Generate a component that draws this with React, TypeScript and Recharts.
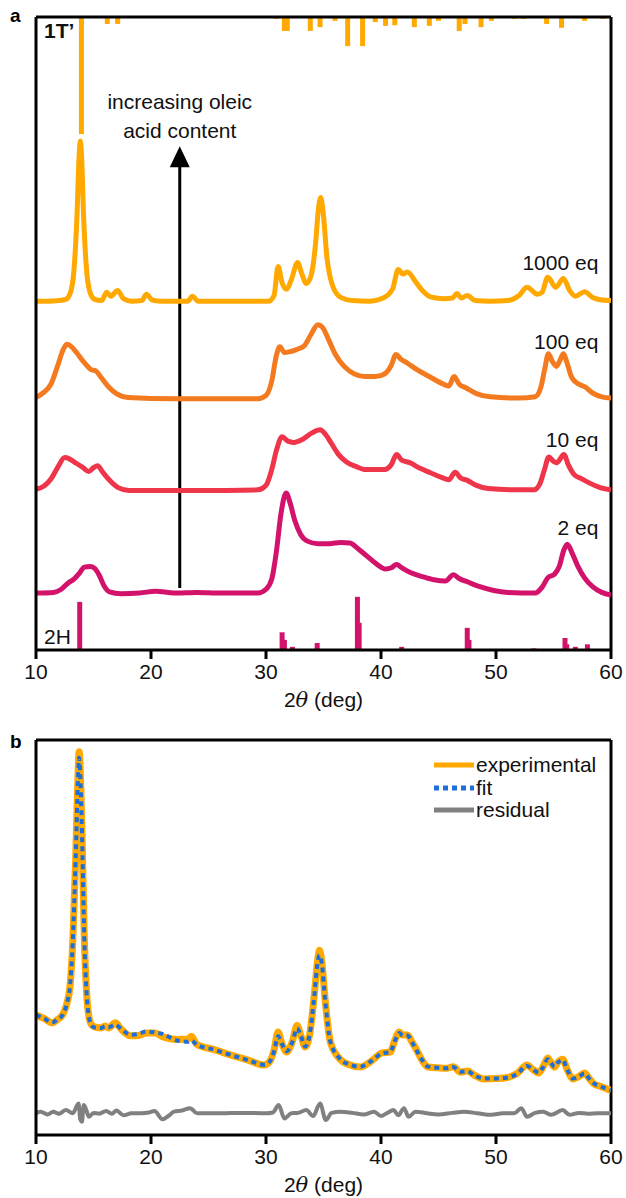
import React from 'react';
import { LineChart, Line, XAxis, YAxis, ReferenceLine, ReferenceDot, Label, Legend } from 'recharts';

const FONT = '"Liberation Sans", Arial, Helvetica, sans-serif';
const FS = 21;

// ---------- shared axis ----------
const xTicks = [10, 20, 30, 40, 50, 60];

// ---------- panel a: offset XRD patterns (2θ, stacked intensity) ----------
const eq1000: [number, number][] = [
  [10, 55.1], [11, 55.1], [12, 55.2], [12.6, 55.4], [13.0, 56.5], [13.3, 60], [13.55, 68], [13.75, 78], [13.85, 80.4], [13.95, 78.5],
  [14.15, 68], [14.4, 60], [14.7, 56.5], [15.1, 55.4], [15.7, 55.2], [16.15, 56.5], [16.5, 55.9], [17.1, 56.8], [17.6, 55.5], [18.3, 55.1],
  [19.2, 55.2], [19.6, 56.2], [20.1, 55.3], [21, 55.1], [23.2, 55.1], [23.6, 55.9], [24.1, 55.1], [30.2, 55.1], [30.7, 56.0], [31.05, 60.6],
  [31.4, 58.0], [31.8, 57.0], [32.2, 58.5], [32.75, 61.2], [33.1, 59.5], [33.5, 57.9], [33.9, 59.0], [34.3, 64.0], [34.55, 69.5], [34.75, 71.5],
  [34.95, 69.5], [35.3, 62], [35.8, 57.5], [36.5, 55.7], [37.5, 55.2], [39, 55.1], [40.2, 55.6], [41, 57.0], [41.5, 60.1], [41.9, 59.4],
  [42.3, 59.7], [43, 58.2], [43.6, 56.8], [44.3, 55.8], [45.5, 55.5], [46.2, 55.6], [46.6, 56.3], [47, 55.6], [47.5, 56.0], [48.2, 55.2],
  [49.5, 55.1], [51.0, 55.2], [52.0, 56.0], [52.7, 57.3], [53.6, 56.2], [54.0, 56.5], [54.5, 58.9], [55.2, 57.3], [55.85, 58.7], [56.4, 56.8],
  [56.9, 55.9], [57.7, 56.6], [58.4, 55.7], [59.2, 55.3], [60, 55.2],
];

const eq100: [number, number][] = [
  [10, 39.9], [10.6, 40.6], [11.3, 42.0], [11.9, 45.0], [12.4, 47.6], [12.7, 48.3], [13.1, 47.9], [13.6, 46.8], [14.2, 45.4], [14.8, 44.3],
  [15.2, 44.1], [15.6, 43.2], [16.3, 41.6], [17.0, 40.5], [18.0, 39.9], [22, 39.7], [29.3, 39.7], [30.0, 40.2], [30.5, 42.5], [30.9, 46.5],
  [31.2, 47.9], [31.6, 47.0], [32.0, 47.1], [32.7, 47.5], [33.3, 48.0], [33.9, 49.8], [34.5, 51.4], [34.9, 51.0], [35.4, 49.2], [36.0, 46.8],
  [36.8, 44.8], [37.7, 43.6], [38.6, 43.2], [39.5, 43.2], [40.3, 43.6], [40.9, 45.0], [41.3, 46.7], [41.7, 46.0], [42.3, 45.3], [43.2, 44.2],
  [44.2, 43.2], [45.2, 42.2], [45.9, 41.7], [46.35, 43.2], [46.8, 42.0], [47.4, 41.4], [48.3, 40.5], [49.5, 40.0], [52, 39.8], [53.4, 40.0],
  [53.9, 41.5], [54.25, 44.5], [54.55, 46.8], [54.9, 45.6], [55.25, 44.8], [55.55, 45.7], [55.85, 46.8], [56.2, 45.2], [56.6, 43.0], [57.2, 42.0],
  [57.7, 41.6], [58.4, 40.6], [59.2, 40.0], [60, 39.8],
];

const eq10: [number, number][] = [
  [10, 25.4], [10.7, 25.9], [11.3, 27.0], [11.9, 28.9], [12.5, 30.4], [12.9, 30.2], [13.5, 29.5], [14.1, 28.8], [14.6, 28.2], [15.0, 28.8],
  [15.35, 29.1], [15.8, 28.1], [16.4, 26.8], [17.1, 25.7], [18.1, 25.2], [24, 25.2], [29.3, 25.3], [30.0, 26.0], [30.5, 28.5], [30.9, 31.5],
  [31.4, 33.7], [31.9, 33.0], [32.4, 32.8], [33.2, 33.3], [34.0, 34.3], [34.7, 34.8], [35.2, 34.0], [35.7, 32.6], [36.3, 30.9], [37.0, 29.7],
  [37.8, 29.0], [38.7, 28.5], [40.3, 28.5], [40.9, 29.3], [41.35, 30.9], [41.8, 30.0], [42.5, 29.6], [43.4, 28.7], [44.3, 28.0], [45.2, 27.3],
  [45.9, 26.9], [46.45, 28.1], [46.9, 27.2], [47.5, 26.8], [48.3, 26.0], [49.3, 25.5], [51.5, 25.3], [53.3, 25.3], [53.8, 26.2], [54.2, 28.4],
  [54.6, 30.5], [55.0, 29.8], [55.3, 29.6], [55.9, 30.9], [56.3, 29.2], [56.8, 27.7], [57.5, 27.0], [58.1, 26.4], [59.0, 25.7], [60, 25.3],
];

const eq2: [number, number][] = [
  [10, 9.0], [11.5, 9.1], [12.2, 9.6], [12.8, 10.6], [13.3, 11.2], [13.8, 12.2], [14.2, 13.1], [14.7, 13.2], [15.1, 12.9], [15.5, 11.8],
  [15.9, 10.2], [16.4, 9.2], [17.4, 8.9], [19, 9.0], [20.4, 9.3], [22, 9.0], [24, 9.1], [26, 9.0], [29.3, 9.0], [30.0, 9.6],
  [30.5, 11.2], [30.9, 15.5], [31.3, 21.5], [31.75, 24.8], [32.1, 23.2], [32.5, 20.5], [33.0, 18.3], [33.6, 17.2], [34.5, 16.8], [35.5, 16.8],
  [36.5, 17.0], [37.3, 16.9], [38.0, 16.0], [38.8, 14.8], [39.6, 13.6], [40.4, 12.8], [40.9, 13.0], [41.35, 13.5], [41.8, 13.0], [42.6, 12.2],
  [43.6, 11.6], [44.6, 11.1], [45.6, 10.9], [46.3, 11.9], [46.8, 11.3], [47.6, 10.7], [48.6, 10.0], [49.8, 9.4], [51, 9.1], [53.4, 9.0],
  [54.0, 9.9], [54.5, 11.4], [55.1, 12.0], [55.5, 13.2], [55.9, 15.8], [56.2, 16.7], [56.6, 15.4], [57.1, 13.3], [57.7, 11.4], [58.4, 10.0],
  [59.2, 9.1], [60, 8.7],
];

// 1T' reference reflections (2θ, relative depth hanging from the top)
const ref1T: [number, number][] = [
  [13.95, 18.5], [16.2, 1.1], [17.1, 1.1], [30.9, 0.3], [31.6, 2.2], [31.85, 2.2], [33.85, 2.2], [34.7, 1.6], [36.0, 0.6], [37.1, 4.6],
  [38.4, 4.6], [39.5, 0.8], [40.4, 1.4], [41.2, 1.3], [42.9, 1.6], [44.2, 1.4], [45.0, 0.6], [46.8, 2.2], [47.3, 1.1], [48.7, 1.6],
  [49.6, 0.6], [51.6, 0.3], [52.4, 0.3], [54.4, 1.1], [55.7, 1.7], [57.7, 0.6], [59.3, 0.3],
];

// 2H reference reflections (2θ, relative height)
const ref2H: [number, number][] = [
  [13.8, 7.6], [31.4, 2.8], [31.6, 1.6], [32.3, 0.5], [34.45, 1.1], [37.95, 8.4], [38.1, 4.3], [41.8, 0.5], [47.5, 3.5], [47.65, 1.6],
  [53.3, 0.25], [56.0, 1.9], [56.15, 0.9], [56.9, 0.5], [57.95, 0.9],
];

const seriesLabels = [
  { text: '1000 eq', x: 58.9, y: 61.2 },
  { text: '100 eq', x: 58.9, y: 48.8 },
  { text: '10 eq', x: 58.9, y: 33.2 },
  { text: '2 eq', x: 58.9, y: 19.3 },
];
const arrowText = [
  { text: 'increasing oleic', x: 22.5, y: 86.6 },
  { text: 'acid content', x: 22.5, y: 82.0 },
];
const arrowX = 22.5;
const arrowFrom = 9.8;
const arrowTo = 77.0;
const arrowTip = 79.6;

// ---------- panel b: Rietveld-type fit ----------
const fitX = [
  10, 10.7, 11.4, 11.9, 12.35, 12.7, 12.95, 13.2, 13.45, 13.65, 13.75, 13.85, 14.05, 14.2, 14.4, 14.6, 14.85, 15.3, 15.7, 16.0,
  16.3, 16.9, 17.4, 18.2, 18.9, 19.6, 20.3, 21.0, 22.2, 23.2, 23.5, 24.0, 25.5, 26.9, 28.5, 29.8, 30.3, 30.7, 31.05, 31.4,
  31.8, 32.3, 32.7, 33.05, 33.4, 33.8, 34.2, 34.5, 34.65, 34.85, 35.15, 35.6, 36.4, 37.3, 38.2, 39.2, 40.1, 40.8, 41.2, 41.6,
  41.9, 42.3, 42.7, 43.1, 43.6, 44.1, 45.0, 45.7, 46.3, 46.9, 47.5, 48.2, 48.9, 50.0, 50.9, 51.8, 52.7, 53.2, 53.7, 54.1,
  54.5, 54.8, 55.1, 55.4, 55.8, 56.2, 56.7, 57.2, 57.7, 58.1, 58.5, 59.1, 59.7, 60,
];
const experimental = [
  30.4, 29.5, 28.4, 29.3, 30.6, 33.5, 37.5, 49, 70, 91, 97, 92, 70, 50, 36, 30, 27.8, 27.2, 27.1, 27.6,
  27.1, 28.4, 26.8, 25.1, 25.2, 25.8, 25.8, 24.9, 24.2, 24.3, 25.0, 22.9, 21.6, 20.3, 18.9, 17.7, 18.5, 21.5, 26.1, 23.0,
  21.0, 23.8, 27.7, 25.0, 22.3, 25.5, 35.5, 44.5, 46.8, 44, 34, 23.5, 19.3, 17.7, 17.2, 18.8, 20.8, 21.0, 24.0, 26.1,
  25.3, 25.3, 23.5, 21.5, 18.8, 17.2, 17.0, 16.9, 17.3, 15.9, 16.2, 15.0, 14.2, 14.3, 14.5, 15.5, 17.7, 16.6, 15.7, 17.3,
  19.5, 18.2, 17.2, 18.5, 19.2, 16.5, 14.2, 14.8, 15.7, 14.3, 13.0, 12.3, 11.6, 11.3,
];
const fitted = [
  30.4, 29.5, 28.5, 29.3, 30.6, 33.5, 37.5, 49, 70, 90, 95.5, 91, 70, 50, 36, 30, 27.6, 27.1, 27.1, 27.5,
  27.3, 27.9, 26.9, 25.4, 25.6, 26.2, 26.0, 25.6, 24.0, 23.6, 23.9, 22.8, 21.6, 20.3, 18.9, 17.8, 18.5, 21.2, 25.0, 23.0,
  21.2, 23.6, 27.0, 25.0, 22.4, 25.5, 35.2, 44.0, 45.5, 43.5, 34, 23.6, 19.4, 17.8, 17.3, 18.8, 20.7, 21.0, 23.8, 25.8,
  25.2, 25.2, 23.5, 21.4, 18.9, 17.3, 17.0, 16.9, 17.2, 16.0, 16.1, 15.0, 14.3, 14.3, 14.5, 15.4, 17.5, 16.6, 15.8, 17.2,
  19.2, 18.2, 17.3, 18.4, 19.0, 16.5, 14.3, 14.8, 15.6, 14.3, 13.1, 12.3, 11.6, 11.3,
];
const residual: [number, number][] = [
  [10, 5.5], [10.4, 5.9], [11.0, 5.2], [11.5, 5.9], [12.0, 5.4], [12.6, 6.3], [13.2, 5.5], [13.7, 8.0], [13.85, 4.0], [14.0, 3.4],
  [14.15, 7.6], [14.35, 6.5], [14.6, 4.6], [15.0, 5.6], [15.5, 5.4], [16.1, 6.1], [16.6, 5.4], [17.0, 6.2], [17.6, 5.0], [18.3, 5.5],
  [19.2, 5.5], [19.8, 5.7], [20.3, 6.1], [21.0, 4.0], [21.5, 4.8], [22.0, 5.9], [22.7, 6.2], [23.4, 6.8], [24.0, 5.5], [26, 5.5],
  [28, 5.6], [30.0, 5.5], [30.6, 5.7], [31.1, 7.6], [31.6, 4.2], [32.2, 5.5], [32.8, 5.6], [33.5, 6.3], [34.1, 4.8], [34.7, 8.0],
  [35.2, 3.8], [35.7, 5.6], [36.5, 5.9], [37.5, 5.6], [38.5, 5.2], [39.4, 5.9], [40.0, 4.8], [40.5, 5.5], [41.1, 6.3], [41.5, 5.0],
  [42.0, 6.8], [42.4, 4.6], [43.0, 5.9], [44.0, 5.5], [45.0, 5.2], [46.2, 5.6], [47.2, 5.9], [48.4, 5.5], [49.6, 5.1], [50.6, 5.5],
  [51.6, 5.5], [52.2, 6.8], [52.7, 4.6], [53.4, 5.6], [54.1, 5.9], [54.8, 5.1], [55.8, 6.3], [56.4, 5.1], [57.2, 5.6], [58, 5.4],
  [58.8, 5.5], [60, 5.5],
];

const legendItems = [
  { name: 'experimental', color: '#FFA800', dash: undefined as string | undefined },
  { name: 'fit', color: '#1C6FDB', dash: '5 4' },
  { name: 'residual', color: '#808080', dash: undefined as string | undefined },
];

// ---------- colours ----------
const C1000 = '#FFA800';
const C100 = '#F47A1F';
const C10 = '#EF3549';
const C2 = '#D3136B';

const toPts = (arr: [number, number][]) => arr.map(([x, y]) => ({ x, y }));
const zipPts = (xs: number[], ys: number[]) => xs.map((x, i) => ({ x, y: ys[i] }));

const AxisTitle = (props: any) => {
  const vb = props.viewBox || {};
  return (
    <text x={vb.x + vb.width / 2} y={vb.y + 57} textAnchor="middle" fontSize={FS} fontFamily={FONT} fill="#111">
      <tspan>2</tspan>
      <tspan fontStyle="italic" fontFamily="'DejaVu Serif', serif">θ</tspan>
      <tspan> (deg)</tspan>
    </text>
  );
};

const textShape = (text: string, anchor: string, weight: string = 'normal') => (p: any) => (
  <text
    x={p.cx}
    y={p.cy}
    textAnchor={anchor}
    dominantBaseline="central"
    fontSize={FS}
    fontWeight={weight}
    fontFamily={FONT}
    fill="#111"
  >
    {text}
  </text>
);

const arrowHead = (p: any) => (
  <polygon points={`${p.cx},${p.cy} ${p.cx - 10},${p.cy + 21} ${p.cx + 10},${p.cy + 21}`} fill="#000" />
);

const axisCommon = {
  type: 'number' as const,
  dataKey: 'x',
  domain: [10, 60],
  ticks: xTicks,
  allowDataOverflow: true,
  tickSize: 9,
  tickMargin: 5,
  axisLine: { stroke: '#000', strokeWidth: 3 },
  tickLine: { stroke: '#000', strokeWidth: 3 },
  tick: { fontSize: FS, fill: '#111', fontFamily: FONT },
};

const LegendBox = () => (
  <div style={{ fontFamily: FONT, fontSize: FS, color: '#111' }}>
    {legendItems.map((it) => (
      <div key={it.name} style={{ display: 'flex', alignItems: 'center', height: 22.5, lineHeight: '22.5px' }}>
        <svg width={40} height={10} style={{ marginRight: 2 }}>
          <line x1={0} y1={5} x2={40} y2={5} stroke={it.color} strokeWidth={5} strokeDasharray={it.dash} />
        </svg>
        <span>{it.name}</span>
      </div>
    ))}
  </div>
);

export default function App() {
  return (
    <div style={{ position: 'absolute', left: 0, top: 0, width: 626, height: 1198 }}>
      <div style={{ position: 'absolute', left: 0, top: 0 }}>
        <LineChart width={626} height={720} margin={{ top: 17, right: 15, bottom: 10, left: 30 }}>
          <XAxis {...axisCommon} height={60}>
            <Label content={AxisTitle} />
          </XAxis>
          <YAxis type="number" domain={[0, 100]} width={6} tick={false} tickLine={false} axisLine={{ stroke: '#000', strokeWidth: 3 }} />
          {ref1T.map(([x, d], i) => (
            <ReferenceLine key={'t' + i} segment={[{ x, y: 100 }, { x, y: 100 - d }]} stroke={C1000} strokeWidth={5} />
          ))}
          {ref2H.map(([x, h], i) => (
            <ReferenceLine key={'h' + i} segment={[{ x, y: 0 }, { x, y: h }]} stroke={C2} strokeWidth={5} />
          ))}
          <ReferenceLine y={100} stroke="#000" strokeWidth={3} />
          <ReferenceLine x={60} stroke="#000" strokeWidth={3} />
          <ReferenceLine segment={[{ x: arrowX, y: arrowFrom }, { x: arrowX, y: arrowTo }]} stroke="#000" strokeWidth={3} />
          <ReferenceDot x={arrowX} y={arrowTip} r={0} shape={arrowHead} />
          <Line data={toPts(eq2)} dataKey="y" type="monotone" stroke={C2} strokeWidth={5} dot={false} isAnimationActive={false} />
          <Line data={toPts(eq10)} dataKey="y" type="monotone" stroke={C10} strokeWidth={5} dot={false} isAnimationActive={false} />
          <Line data={toPts(eq100)} dataKey="y" type="monotone" stroke={C100} strokeWidth={5} dot={false} isAnimationActive={false} />
          <Line data={toPts(eq1000)} dataKey="y" type="monotone" stroke={C1000} strokeWidth={5} dot={false} isAnimationActive={false} />
          {seriesLabels.map((l) => (
            <ReferenceDot key={l.text} x={l.x} y={l.y} r={0} shape={textShape(l.text, 'end')} />
          ))}
          {arrowText.map((l) => (
            <ReferenceDot key={l.text} x={l.x} y={l.y} r={0} shape={textShape(l.text, 'middle')} />
          ))}
          <ReferenceDot x={10.7} y={97.9} r={0} shape={textShape('1T\u2019', 'start', 'bold')} />
          <ReferenceDot x={10.7} y={2.1} r={0} shape={textShape('2H', 'start')} />
        </LineChart>
      </div>
      <div style={{ position: 'absolute', left: 0, top: 720 }}>
        <LineChart width={626} height={478} margin={{ top: 20, right: 15, bottom: 8, left: 30 }}>
          <XAxis {...axisCommon} height={55}>
            <Label content={AxisTitle} />
          </XAxis>
          <YAxis type="number" domain={[0, 100]} width={6} tick={false} tickLine={false} axisLine={{ stroke: '#000', strokeWidth: 3 }} />
          <ReferenceLine y={100} stroke="#000" strokeWidth={3} />
          <ReferenceLine x={60} stroke="#000" strokeWidth={3} />
          <Line data={toPts(residual)} dataKey="y" type="monotone" stroke="#808080" strokeWidth={4} dot={false} isAnimationActive={false} />
          <Line data={zipPts(fitX, experimental)} dataKey="y" type="monotone" stroke="#FFA800" strokeWidth={7} dot={false} isAnimationActive={false} />
          <Line data={zipPts(fitX, fitted)} dataKey="y" type="monotone" stroke="#1C6FDB" strokeWidth={4} strokeDasharray="5 4" dot={false} isAnimationActive={false} />
          <Legend
            layout="vertical"
            verticalAlign="middle"
            align="center"
            content={() => <LegendBox />}
            wrapperStyle={{ position: 'absolute', left: 434, top: 34, width: 'auto', right: 'auto', bottom: 'auto' }}
          />
        </LineChart>
      </div>
      <div style={{ position: 'absolute', left: 10, top: 6, fontFamily: FONT, fontWeight: 'bold', fontSize: 19, lineHeight: '19px' }}>a</div>
      <div style={{ position: 'absolute', left: 10, top: 732, fontFamily: FONT, fontWeight: 'bold', fontSize: 19, lineHeight: '19px' }}>b</div>
    </div>
  );
}
